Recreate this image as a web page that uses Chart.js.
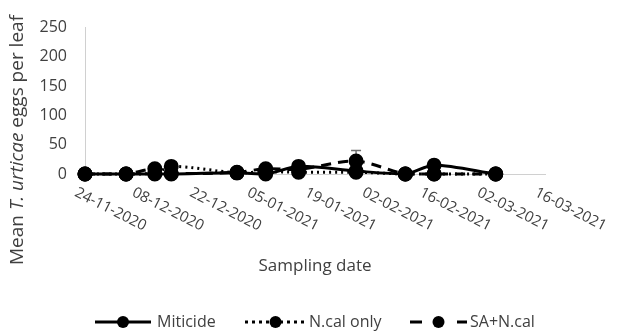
<!DOCTYPE html>
<html>
<head>
<meta charset="utf-8">
<script src="https://cdn.jsdelivr.net/npm/chart.js@4/dist/chart.umd.min.js"></script>
<style>
  html, body { margin: 0; padding: 0; background: #fff; }
  #wrap { width: 630px; height: 331px; }
</style>
</head>
<body>
<div id="wrap"><canvas id="chart"></canvas></div>
<script>
// sampling dates (dd-mm-yyyy) and tick labels of the date axis
const sampleDates = ['24-11-2020', '04-12-2020', '11-12-2020', '15-12-2020', '31-12-2020',
  '07-01-2021', '15-01-2021', '29-01-2021', '10-02-2021', '17-02-2021', '04-03-2021'];
const tickLabels = ['24-11-2020', '08-12-2020', '22-12-2020', '05-01-2021', '19-01-2021',
  '02-02-2021', '16-02-2021', '02-03-2021', '16-03-2021'];

// mean eggs per leaf, and standard error
const miticide    = [0, 0, 0, 0, 2, 0, 13, 5, 0, 15, 0];
const miticideErr = [0, 0, 0, 0, 1, 0, 3, 2, 0, 9, 0];
const ncalOnly    = [0, 0, 1, 13, 2, 4, 3, 3, 0, 0, 0];
const ncalOnlyErr = [0, 0, 1, 7, 1, 2, 1, 1, 0, 0, 0];
const saNcal      = [0, 0, 9, 1, 3, 9, 8, 22, 0, 0, 0];
const saNcalErr   = [0, 0, 7, 1, 1, 5, 3, 18, 0, 0, 0];

const textColor = '#404040';
const font = '"Open Sans", "Liberation Sans", sans-serif';

function toDay(s) {
  const p = s.split('-');
  return Date.UTC(+p[2], +p[1] - 1, +p[0]) / 86400000;
}
const day0 = toDay(tickLabels[0]);
const xDays = sampleDates.map(d => toDay(d) - day0);
const lastDay = toDay(tickLabels[tickLabels.length - 1]) - day0;

function points(vals) {
  return vals.map((v, i) => ({x: xDays[i], y: v}));
}

function series(label, vals, errs, dash) {
  return {
    label: label,
    data: points(vals),
    errors: errs,
    borderColor: '#000',
    backgroundColor: '#000',
    borderWidth: 3,
    borderDash: dash,
    pointRadius: 6,
    pointHoverRadius: 6,
    tension: 0.3,
    clip: false,
    fill: false
  };
}

// error bars, drawn under the markers
const errorBars = {
  id: 'errorBars',
  beforeDatasetsDraw(chart) {
    const ctx = chart.ctx;
    const xs = chart.scales.x, ys = chart.scales.y;
    ctx.save();
    ctx.beginPath();
    ctx.rect(chart.chartArea.left, chart.chartArea.top - 5,
      chart.chartArea.right - chart.chartArea.left, chart.chartArea.bottom - chart.chartArea.top + 5);
    ctx.clip();
    ctx.strokeStyle = '#707070';
    ctx.lineWidth = 1.5;
    chart.data.datasets.forEach(ds => {
      ds.data.forEach((p, i) => {
        const e = ds.errors[i];
        if (!e) return;
        const x = xs.getPixelForValue(p.x);
        const y1 = ys.getPixelForValue(p.y + e);
        const y2 = ys.getPixelForValue(p.y - e);
        ctx.beginPath();
        ctx.moveTo(x, y1); ctx.lineTo(x, y2);
        ctx.moveTo(x - 5, y1); ctx.lineTo(x + 5, y1);
        ctx.stroke();
      });
    });
    ctx.restore();
  }
};

// rotated date labels, axis titles and legend
const decorations = {
  id: 'decorations',
  afterDraw(chart) {
    const ctx = chart.ctx;
    const xs = chart.scales.x;
    const area = chart.chartArea;
    ctx.save();
    ctx.fillStyle = textColor;

    // date tick labels
    ctx.font = '15px ' + font;
    ctx.textAlign = 'left';
    ctx.textBaseline = 'top';
    tickLabels.forEach((t, i) => {
      const x = xs.getPixelForValue(i * 14);
      ctx.save();
      ctx.translate(x - 6, area.bottom + 11);
      ctx.rotate(27 * Math.PI / 180);
      ctx.fillText(t, 0, 0);
      ctx.restore();
    });

    // x title
    ctx.font = '17px ' + font;
    ctx.textAlign = 'center';
    ctx.textBaseline = 'middle';
    ctx.fillText('Sampling date', (area.left + area.right) / 2, 266);

    // y title with italic species name
    const parts = [['Mean ', ''], ['T. urticae', 'italic '], [' eggs per leaf', '']];
    let total = 0;
    parts.forEach(p => { ctx.font = p[1] + '19px ' + font; p.push(ctx.measureText(p[0]).width); total += p[2]; });
    ctx.save();
    ctx.translate(18, 140);
    ctx.rotate(-Math.PI / 2);
    ctx.textAlign = 'left';
    let pos = -total / 2;
    parts.forEach(p => { ctx.font = p[1] + '19px ' + font; ctx.fillText(p[0], pos, 0); pos += p[2]; });
    ctx.restore();

    // legend
    const items = [
      {ds: 0, x1: 95, x2: 151, text: 157, dash: []},
      {ds: 1, x1: 245, x2: 306, text: 309, dash: [3, 4]},
      {ds: 2, x1: 410, x2: 467, text: 470, dash: [12, 35]}
    ];
    const ly = 322;
    ctx.font = '16px ' + font;
    ctx.textAlign = 'left';
    ctx.textBaseline = 'middle';
    items.forEach(it => {
      const ds = chart.data.datasets[it.ds];
      ctx.strokeStyle = '#000';
      ctx.lineWidth = 3;
      ctx.setLineDash(it.dash);
      ctx.beginPath();
      ctx.moveTo(it.x1, ly); ctx.lineTo(it.x2, ly);
      ctx.stroke();
      ctx.setLineDash([]);
      ctx.beginPath();
      ctx.arc((it.x1 + it.x2) / 2, ly, 6, 0, Math.PI * 2);
      ctx.fillStyle = '#000';
      ctx.fill();
      ctx.fillStyle = textColor;
      ctx.fillText(ds.label, it.text, ly);
    });
    ctx.restore();
  }
};

new Chart(document.getElementById('chart'), {
  type: 'line',
  data: {
    datasets: [
      series('Miticide', miticide, miticideErr, []),
      series('N.cal only', ncalOnly, ncalOnlyErr, [2, 4]),
      series('SA+N.cal', saNcal, saNcalErr, [10, 7])
    ]
  },
  options: {
    responsive: true,
    maintainAspectRatio: false,
    animation: false,
    layout: {padding: {top: 17, right: 85, left: 0, bottom: 0}},
    plugins: {legend: {display: false}, tooltip: {enabled: false}},
    scales: {
      x: {
        type: 'linear',
        min: 0,
        max: lastDay,
        grid: {display: false},
        border: {display: true, color: '#d0d0d0', width: 1},
        ticks: {display: false, stepSize: 14},
        afterFit(scale) { scale.height = 157; }
      },
      y: {
        min: 0,
        max: 250,
        grid: {display: false, drawTicks: false},
        border: {display: true, color: '#d0d0d0', width: 1},
        ticks: {stepSize: 50, padding: 18, color: textColor, font: {size: 16, family: font}},
        afterFit(scale) { scale.width = 85; }
      }
    }
  },
  plugins: [errorBars, decorations]
});
</script>
</body>
</html>
